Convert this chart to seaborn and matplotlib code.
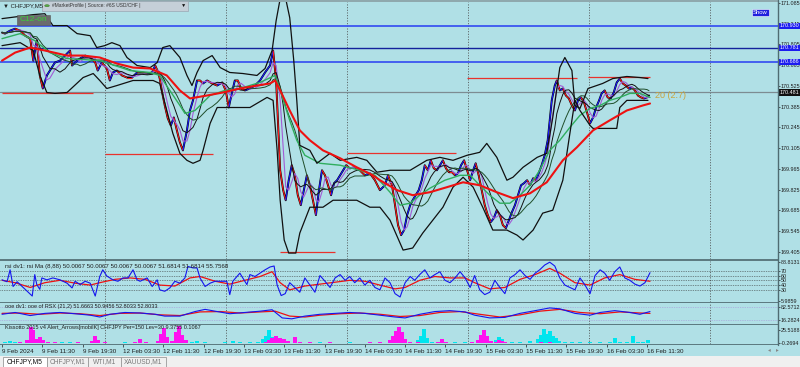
import numpy as np
import pandas as pd
import matplotlib
matplotlib.use("Agg")
import matplotlib.pyplot as plt
import seaborn as sns
from matplotlib.collections import LineCollection
from matplotlib.patches import Rectangle, Circle
from matplotlib.lines import Line2D

sns.set_theme(style="white")
plt.rcParams['font.family'] = ['Liberation Sans', 'DejaVu Sans']

# ---------------- data ----------------
close_hours = [0.0,0.6,1.6,2.6,3.6,4.6,5.6,6.2,6.9,7.5,
               8.1,8.9,9.5,10.5,11.5,12.5,13.5,13.9,14.9,15.5,
               16.5,17.5,18.5,19.0,19.8,20.8,21.4,22.0,22.8,23.8,
               24.8,25.8,26.8,27.8,28.8,29.8,30.4,31.0,31.3,31.7,
               32.3,32.9,33.5,34.1,34.7,35.3,35.9,36.7,37.3,37.9,
               38.7,39.3,39.9,40.7,41.7,42.7,43.7,44.4,45.0,45.6,
               46.2,46.8,47.4,48.2,49.2,50.2,51.2,52.2,53.2,53.8,
               54.4,55.2,55.8,56.3,56.9,57.5,58.1,58.7,59.3,59.9,
               60.5,61.1,61.7,62.3,62.9,63.5,64.1,64.7,65.3,65.9,
               66.5,67.1,67.7,68.3,69.0,70.0,71.0,72.0,73.0,74.0,
               75.0,76.0,76.6,77.4,78.0,78.6,79.2,79.8,80.4,81.0,
               81.5,82.1,82.7,83.3,83.9,84.5,85.1,85.7,86.3,86.9,
               87.5,88.1,88.7,89.3,89.9,90.5,91.1,91.7,92.3,92.9,
               93.5,94.0,94.6,95.2,95.8,96.4,97.0,97.6,98.2,98.8,
               99.4,100.0,100.6,101.2,101.8,102.4,103.0,103.6,104.2,104.8,
               105.4,106.0,106.6,107.1,107.7,108.3,108.7,109.1,109.7,110.1,
               110.7,111.3,111.9,112.5,113.1,113.7,114.3,114.9,115.5,116.1,
               116.7,117.3,117.9,118.5,119.0,119.6,120.2,120.8,121.4,122.0,
               122.6,123.2,123.8,124.4,125.0,125.6,126.2,126.8,127.4,128.0,128.4]
close = [170.884,170.877,170.897,170.910,170.897,170.863,170.843,170.695,170.830,170.595,
         170.507,170.595,170.628,170.682,170.695,170.729,170.763,170.662,170.695,170.709,
         170.729,170.716,170.682,170.628,170.682,170.642,170.561,170.615,170.628,170.595,
         170.581,170.581,170.615,170.615,170.608,170.615,170.662,170.615,170.574,170.494,
         170.393,170.306,170.258,170.312,170.225,170.144,170.090,170.225,170.359,170.427,
         170.561,170.561,170.541,170.561,170.541,170.527,170.548,170.494,170.379,170.474,
         170.561,170.561,170.507,170.494,170.507,170.527,170.561,170.615,170.662,170.763,
         170.561,169.956,169.822,169.754,169.889,169.990,169.922,169.788,169.721,169.822,
         169.922,169.855,169.754,169.654,169.822,169.956,169.922,169.855,169.788,169.869,
         169.889,169.922,169.956,169.990,169.969,169.976,169.956,169.922,169.936,169.889,
         169.822,169.855,169.922,169.855,169.721,169.586,169.519,169.553,169.654,169.721,
         169.754,169.788,169.822,169.889,169.990,169.956,170.023,169.969,169.956,169.990,
         170.023,169.969,169.943,169.943,169.922,169.936,169.990,170.023,169.956,169.889,
         169.956,170.003,169.922,169.822,169.721,169.654,169.607,169.633,169.687,169.654,
         169.586,169.566,169.620,169.674,169.721,169.788,169.855,169.869,169.889,169.855,
         169.902,169.889,169.943,169.990,170.057,170.158,170.292,170.427,170.527,170.561,
         170.494,170.507,170.460,170.440,170.393,170.359,170.427,170.447,170.413,170.346,
         170.272,170.312,170.379,170.427,170.474,170.494,170.447,170.440,170.480,170.548,
         170.574,170.541,170.527,170.507,170.514,170.494,170.460,170.447,170.440,170.447,170.460]

red_ma_hours = [0.0,2.6,5.6,8.5,12.9,16.1,19.4,22.8,26.0,29.4,32.7,35.3,37.3,40.7,43.8,47.2,50.6,53.2,54.2,55.2,
                57.1,59.1,61.1,63.7,67.1,70.4,73.6,75.0,78.4,81.5,84.9,88.3,91.5,94.8,98.2,101.4,104.8,108.1,
                111.3,114.1,117.3,120.6,124.0,127.2,128.6]
red_ma = [170.695,170.749,170.783,170.763,170.729,170.729,170.716,170.675,170.648,170.642,170.595,170.494,170.440,
          170.460,170.480,170.507,170.527,170.541,170.561,170.494,170.359,170.225,170.158,170.090,170.037,169.976,
          169.922,169.889,169.822,169.788,169.808,169.842,169.875,169.855,169.808,169.768,169.801,169.875,
          170.023,170.111,170.225,170.292,170.359,170.393,170.406]

green_ma_hours = [0.0,3.6,6.5,9.5,12.9,19.4,25.4,29.4,31.3,33.3,35.3,36.3,38.3,41.3,44.2,47.2,51.2,54.2,55.2,57.1,
                  58.5,60.1,63.1,67.1,71.0,74.0,77.0,79.0,81.0,82.9,84.9,87.9,90.9,92.9,94.8,96.8,98.8,100.8,
                  102.8,104.8,106.7,108.7,110.7,112.7,114.7,116.7,118.7,120.6,122.6,124.6,126.6,128.6]
green_ma = [170.843,170.877,170.830,170.749,170.709,170.695,170.628,170.615,170.595,170.494,170.393,170.339,170.359,
            170.460,170.494,170.507,170.548,170.595,170.494,170.292,170.158,170.057,170.003,169.990,169.956,169.922,
            169.808,169.721,169.734,169.788,169.835,169.889,169.922,169.922,169.855,169.788,169.734,169.734,
            169.788,169.855,169.956,170.090,170.158,170.245,170.326,170.373,170.393,170.427,170.447,170.474,170.474,170.447]

upper_hours = [0.0,3.0,6.2,8.5,10.1,12.9,14.9,17.5,18.8,20.4,21.8,23.4,24.8,26.8,29.4,30.8,31.9,33.3,35.3,36.7,
               37.7,38.7,39.9,41.7,43.3,45.2,47.8,50.6,52.2,53.6,54.4,55.2,56.3,57.1,57.9,58.5,59.1,61.1,62.5,
               65.1,67.1,70.4,72.4,74.4,77.0,81.0,84.3,86.9,89.5,92.3,94.8,96.2,98.2,100.2,101.4,103.4,106.2,
               108.1,109.3,110.7,111.7,113.1,113.7,114.7,116.3,119.2,121.2,124.0,126.6,128.2]
upper_band = [170.978,170.991,171.005,171.011,170.931,170.931,170.877,170.863,170.783,170.796,170.816,170.796,
              170.716,170.662,170.648,170.682,170.783,170.796,170.716,170.595,170.527,170.615,170.695,170.729,
              170.648,170.615,170.608,170.595,170.642,170.763,170.964,171.112,171.112,170.984,170.695,170.427,
              170.124,170.090,170.003,170.070,170.023,170.043,170.023,169.943,169.956,169.956,170.023,170.043,
              170.023,170.057,170.077,170.137,170.043,169.889,169.909,169.976,170.043,170.070,170.312,170.648,
              170.716,170.628,170.393,170.373,170.507,170.541,170.574,170.588,170.581,170.574]

lower_hours = [0.0,3.6,6.2,7.5,8.9,10.5,12.9,16.1,18.1,19.4,20.8,22.8,26.0,30.0,31.3,32.7,33.9,35.3,36.7,37.9,
               39.3,39.9,41.3,42.7,45.2,49.2,52.6,53.8,54.6,55.2,56.0,56.9,58.3,59.1,61.1,63.7,65.7,70.4,73.0,
               75.0,77.0,79.6,81.5,83.5,85.5,87.5,89.5,91.5,93.5,95.4,97.4,100.2,102.2,103.4,105.4,107.3,109.3,
               111.3,112.7,113.7,114.7,116.7,117.3,122.0,122.6,124.0,126.6,128.2]
lower_band = [170.796,170.816,170.763,170.595,170.480,170.474,170.480,170.581,170.608,170.561,170.507,170.527,
              170.561,170.561,170.541,170.359,170.205,170.070,170.023,170.003,170.023,170.090,170.272,170.379,
              170.379,170.379,170.447,170.427,170.090,169.754,169.486,169.398,169.398,169.533,169.707,169.707,
              169.754,169.754,169.707,169.707,169.620,169.418,169.432,169.533,169.620,169.707,169.842,169.909,
              169.842,169.707,169.553,169.553,169.519,169.486,169.553,169.667,169.687,169.889,170.205,170.427,
              170.359,170.258,170.238,170.238,170.379,170.427,170.427,170.427]

level_prices = [170.930, 170.781, 170.686, 170.481]
level_labels = ["170.930", "170.781", "170.686", "170.481"]

profile_start = [0.0, 20.4, 55.2, 68.5, 92.3, 116.3]
profile_end = [18.1, 41.9, 66.1, 90.1, 114.1, 128.6]
profile_price = [170.474, 170.064, 169.405, 170.070, 170.581, 170.583]

price_ticks = [171.085, 170.945, 170.805, 170.665, 170.525, 170.385, 170.245,
               170.105, 169.965, 169.825, 169.685, 169.545, 169.405]

rsi_hours = [0.0,1.0,1.6,2.2,3.0,3.6,5.0,6.0,6.5,6.9,7.5,7.9,8.9,10.1,11.5,12.9,13.9,14.5,15.5,16.5,
             17.5,18.5,19.4,20.0,20.8,22.0,23.0,24.0,25.0,26.0,26.8,27.4,28.8,29.8,30.8,31.3,32.3,33.3,34.3,35.3,
             36.3,36.9,37.9,38.7,39.3,40.3,41.3,42.3,43.3,44.6,45.2,45.8,47.2,48.6,49.2,50.2,51.2,
             52.2,53.2,54.0,54.6,55.4,56.2,
             57.1,58.1,59.1,60.1,61.1,62.1,63.1,64.1,65.1,66.1,
             67.1,68.1,69.0,70.0,71.0,72.0,73.0,74.0,75.0,76.0,
             77.0,78.0,79.0,80.0,81.0,81.9,82.9,83.9,84.9,85.9,
             86.9,87.9,88.9,89.9,90.9,91.9,92.9,93.8,94.8,95.8,
             96.8,97.8,98.8,99.8,100.8,101.8,102.8,103.8,104.8,105.8,
             106.7,107.7,108.7,109.7,110.7,111.7,112.7,113.7,114.7,115.7,
             116.7,117.7,118.7,119.6,120.6,121.6,122.6,123.6,124.6,125.6,
             126.6,127.6,128.6]
rsi_fast = [51,47,72,37,47,41,27,17,62,41,31,55,51,55,51,44,34,48,41,48,
            44,17,58,72,59,51,48,55,55,72,51,48,55,37,51,30,27,34,48,44,
            55,79,76,76,55,37,44,48,48,48,20,48,65,41,62,58,65,
            72,78,80,40,18,22,
            45,35,25,55,40,25,60,48,35,55,
            62,50,58,45,55,40,50,35,30,55,
            45,22,15,45,58,50,62,72,55,62,
            68,50,45,55,68,55,35,60,30,20,
            25,50,35,22,55,62,72,60,52,65,
            72,82,88,80,55,40,35,30,55,40,
            22,60,72,65,50,68,78,55,50,42,
            38,45,66]
rsi_ma_hours = [0.0,2.6,5.6,8.5,11.5,14.5,17.5,19.4,22.4,25.4,28.4,31.3,34.3,37.3,39.3,42.3,45.2,48.2,51.2,53.6,
                55.2,57.1,60.1,63.1,66.1,69.0,72.0,75.0,78.0,80.0,82.9,85.9,88.9,91.9,93.8,96.8,99.8,102.8,
                105.8,108.7,110.7,113.7,116.7,119.6,122.6,125.6,128.6]
rsi_ma = [50,45,35,45,50,44,40,45,52,55,52,40,38,55,58,48,42,50,58,68,45,30,38,42,46,50,48,40,32,35,50,58,55,55,
          45,32,35,52,62,75,65,45,40,55,62,52,48]
rsi_levels = [70, 60, 50, 40, 30]

rsx_hours = [0.0,2.6,5.6,8.5,11.5,14.5,17.5,19.4,21.4,24.4,27.4,30.4,32.3,35.3,38.3,40.3,42.3,45.2,48.2,51.2,
             53.6,55.6,57.5,60.1,63.1,66.1,69.0,72.0,75.0,78.0,80.0,82.9,85.9,88.9,91.9,93.8,96.8,99.8,102.8,
             105.8,108.7,110.7,113.7,116.7,118.7,121.6,124.6,126.6,128.6]
rsx_fast = [45,55,38,50,55,48,40,30,45,55,52,45,35,35,60,72,62,48,55,62,70,25,20,35,45,50,55,50,40,30,25,45,60,
            65,58,40,25,28,50,65,80,75,50,40,55,65,55,45,60]
rsx_slow_hours = [0.0,3.6,7.5,11.5,15.5,19.4,23.4,27.4,31.3,35.3,39.3,43.3,47.2,51.2,54.2,57.1,60.1,63.1,67.1,
                  71.0,75.0,79.0,82.9,86.9,90.9,94.8,98.8,102.8,106.7,110.7,114.7,118.7,122.6,126.6,128.6]
rsx_slow = [50,52,45,52,48,38,50,52,42,38,58,60,52,58,62,35,30,40,48,52,45,33,38,55,60,45,30,42,62,72,55,48,58,52,50]
rsx_levels = [82.5712, 16.2824]

kis_hours = [0.6,1.6,2.6,3.6,5.0,5.8,6.2,6.7,7.5,8.1,
             9.1,10.5,11.9,13.5,15.1,16.5,17.9,18.5,19.0,20.4,
             22.4,24.4,26.4,27.4,28.6,29.8,31.0,31.5,32.1,32.7,
             33.7,34.5,35.1,35.7,36.5,37.7,38.7,40.3,42.3,44.2,
             45.8,47.2,49.2,50.8,51.8,52.4,53.0,53.6,54.4,55.2,
             56.0,56.7,58.1,59.1,61.1,63.1,65.1,67.1,69.0,71.0,
             73.0,75.0,77.0,77.6,78.2,78.8,79.4,80.0,81.0,82.5,
             83.1,83.7,84.3,85.3,86.5,87.3,88.1,89.9,91.9,93.3,
             94.4,95.0,95.6,96.2,97.0,98.0,98.6,99.2,99.8,101.2,
             102.8,104.8,106.3,106.9,107.5,108.1,108.7,109.3,109.9,110.5,
             111.7,113.1,114.7,116.7,118.7,120.6,121.6,122.6,124.0,125.2,
             126.2,127.2,128.2]
kis_cyan = [3,5,2,1,2,1,2,1,1,1,
            2,1,2,3,1,1,1,1,1,1,
            1,2,1,1,1,1,1,1,1,1,
            1,1,1,1,1,2,5,2,1,2,
            4,2,3,2,8,14,24,12,4,2,
            1,1,2,1,1,2,1,1,2,1,
            1,1,2,4,8,6,4,2,2,6,
            14,26,10,3,3,6,2,2,2,1,
            2,2,2,2,1,6,12,8,3,2,
            2,4,8,16,26,18,22,14,10,5,
            3,2,2,3,2,3,10,3,2,14,
            3,2,6]
kis_magenta = [1,1,1,2,6,30,24,8,12,6,
               3,2,1,1,2,1,4,14,6,2,
               1,1,3,8,2,1,5,18,28,12,
               4,20,32,16,6,1,1,1,1,1,
               1,1,1,1,1,3,6,10,14,10,
               8,4,12,3,2,1,2,1,1,1,
               2,3,6,14,22,30,20,8,3,2,
               1,1,1,1,2,8,2,1,1,2,
               6,16,24,14,5,3,6,4,2,1,
               1,1,1,2,1,1,2,1,1,1,
               1,1,1,1,1,1,1,1,1,1,
               1,1,1]

xtick_hours = [0, 8, 16, 24, 32, 40, 48, 56, 64, 72, 80, 88, 96, 104, 112, 120, 128]
xtick_labels = ["9 Feb 2024", "9 Feb 11:30", "9 Feb 19:30", "12 Feb 03:30", "12 Feb 11:30",
                "12 Feb 19:30", "13 Feb 03:30", "13 Feb 11:30", "13 Feb 19:30", "14 Feb 03:30",
                "14 Feb 11:30", "14 Feb 19:30", "15 Feb 03:30", "15 Feb 11:30", "15 Feb 19:30",
                "16 Feb 03:30", "16 Feb 11:30"]
day_separators = [20.5, 44.5, 68.5, 92.5, 116.5, 140.5]
tabs = ["CHFJPY,M5", "CHFJPY,M1", "WTI,M1", "XAUUSD,M1"]

for a, b in [(close_hours, close), (red_ma_hours, red_ma), (green_ma_hours, green_ma),
             (upper_hours, upper_band), (lower_hours, lower_band), (rsi_hours, rsi_fast),
             (rsi_ma_hours, rsi_ma), (rsx_hours, rsx_fast), (rsx_slow_hours, rsx_slow)]:
    assert len(a) == len(b), (len(a), len(b))
assert len(kis_hours) == len(kis_cyan) == len(kis_magenta)

# ---------------- figure ----------------
BG = "#b0e0e6"
W, H = 800, 367
AXIS_FS = 3.9
fig = plt.figure(figsize=(8, 3.67), dpi=100)
fig.patch.set_facecolor(BG)


def box(x0, y0, x1, y1):
    return [x0 / W, 1 - y1 / H, (x1 - x0) / W, (y1 - y0) / H]


ax = fig.add_axes(box(0, 2, 778, 259))
ax1 = fig.add_axes(box(0, 261, 778, 302), sharex=ax)
ax2 = fig.add_axes(box(0, 303, 778, 324), sharex=ax)
ax3 = fig.add_axes(box(0, 325, 778, 344), sharex=ax)

XMIN, XMAX = -0.4, 154.0
for a in (ax, ax1, ax2, ax3):
    a.set_facecolor(BG)
    for s in a.spines.values():
        s.set_visible(False)
    a.yaxis.tick_right()
    a.tick_params(axis='y', which='both', right=True, left=False, labelleft=False, labelright=True,
                  length=1.5, width=0.5, pad=0.5, labelsize=AXIS_FS, colors='#1e1e1e')
    a.tick_params(axis='x', bottom=False, labelbottom=False)
    a.set_xlim(XMIN, XMAX)
    for d in day_separators:
        a.axvline(d, color='#4a4a4a', lw=0.55, ls=(0, (1.5, 2)), zorder=1)

# ---- main price panel ----
ax.set_ylim(169.358, 171.09)
ax.set_yticks(price_ticks)
ax.set_yticklabels([f"{v:.3f}" for v in price_ticks])

level_colors = ['#3b56f0', '#14239c', '#3b56f0', '#7d8c92']
level_widths = [1.3, 1.0, 1.3, 0.9]
for p, c, w in zip(level_prices, level_colors, level_widths):
    ax.axhline(p, color=c, lw=w, zorder=2)

for s, e, p in zip(profile_start, profile_end, profile_price):
    ax.hlines(p, s, e, color='#e8322d', lw=0.9, zorder=2)

price_df = pd.DataFrame({"hours": close_hours, "close": close})
price_df["ma_fast"] = price_df["close"].rolling(3, min_periods=1).mean()
price_df["ma_mid"] = price_df["close"].rolling(6, min_periods=1).mean()
price_df["ma_slow"] = price_df["close"].rolling(11, min_periods=1).mean()

sns.lineplot(data=price_df, x="hours", y="close", ax=ax, color='black', lw=1.4,
             estimator=None, sort=False, zorder=3)
pts = np.column_stack([price_df["hours"], price_df["close"]])
segs = np.stack([pts[:-1], pts[1:]], axis=1)
seg_cols = ['#1a1aff' if b > a else '#ff1a1a' for a, b in zip(close[:-1], close[1:])]
ax.add_collection(LineCollection(segs, colors=seg_cols, linewidths=0.8, zorder=4))

sns.lineplot(data=price_df, x="hours", y="ma_fast", ax=ax, color='#a25bd6', lw=0.8,
             estimator=None, sort=False, zorder=4)
sns.lineplot(data=price_df, x="hours", y="ma_mid", ax=ax, color='#111111', lw=0.7,
             estimator=None, sort=False, zorder=4)
sns.lineplot(data=price_df, x="hours", y="ma_slow", ax=ax, color='#1f4d2a', lw=0.7,
             estimator=None, sort=False, zorder=4)
sns.lineplot(x=green_ma_hours, y=green_ma, ax=ax, color='#2fae5e', lw=1.0,
             estimator=None, sort=False, zorder=5)
sns.lineplot(x=upper_hours, y=upper_band, ax=ax, color='#101010', lw=0.9,
             estimator=None, sort=False, zorder=5)
sns.lineplot(x=lower_hours, y=lower_band, ax=ax, color='#101010', lw=0.9,
             estimator=None, sort=False, zorder=5)
sns.lineplot(x=red_ma_hours, y=red_ma, ax=ax, color='#ee1111', lw=1.5,
             estimator=None, sort=False, zorder=6)

ax.set_xlabel("")
ax.set_ylabel("")

# price level labels on the right scale
label_fc = ['#1c1cf0', '#1c1cf0', '#1c1cf0', '#111111']
for p, t, c in zip(level_prices, level_labels, label_fc):
    ax.text(1.0025, p, t, transform=ax.get_yaxis_transform(), ha='left', va='center',
            fontsize=AXIS_FS, color='white', clip_on=False, zorder=10,
            bbox=dict(boxstyle='square,pad=0.12', fc=c, ec='none'))

ax.text(close_hours[-1] + 1.2, close[-1], "20 (2.7)", fontsize=6.5, color='#c9a33c',
        ha='left', va='center', zorder=8)

# ---- rsi panel ----
ax1.set_ylim(4.5, 90.5)
for lv in rsi_levels:
    ax1.axhline(lv, color='#333333', lw=0.5, ls=(0, (1, 1.5)), zorder=1)
sns.lineplot(x=rsi_ma_hours, y=rsi_ma, ax=ax1, color='#ee1111', lw=0.9, estimator=None, sort=False)
sns.lineplot(x=rsi_hours, y=rsi_fast, ax=ax1, color='#1515ee', lw=0.8, estimator=None, sort=False)
ax1.set_yticks([88.8131] + rsi_levels + [5.9859])
ax1.set_yticklabels(["88.8131"] + [str(v) for v in rsi_levels] + ["5.9859"])
ax1.text(0.006, 0.92, "rsi dv1: rsi Ma (8,88) 50.0067 50.0067 50.0067 50.0067 51.6814 51.6814 55.7568",
         transform=ax1.transAxes, fontsize=4.4, color='#1e1e1e', va='top', ha='left')

# ---- rsx panel ----
ax2.set_ylim(-8.4, 107)
for lv in rsx_levels:
    ax2.axhline(lv, color='#a98fd8', lw=0.5, ls=(0, (1, 1.5)), zorder=1)
sns.lineplot(x=rsx_slow_hours, y=rsx_slow, ax=ax2, color='#ee1111', lw=0.9, estimator=None, sort=False)
sns.lineplot(x=rsx_hours, y=rsx_fast, ax=ax2, color='#1515ee', lw=0.8, estimator=None, sort=False)
ax2.set_yticks(rsx_levels)
ax2.set_yticklabels([f"{v:.4f}" for v in rsx_levels])
ax2.text(0.006, 0.94, "ooe dv1: ooe of RSX (21,2) 51.6663 50.9456 52.8033 52.8033",
         transform=ax2.transAxes, fontsize=4.0, color='#1e1e1e', va='top', ha='left')

# ---- kissotto panel ----
ax3.set_ylim(-1.5, 34)
ax3.bar(kis_hours, kis_cyan, width=0.8, color='#00e5ee', linewidth=0, zorder=2)
ax3.bar(kis_hours, kis_magenta, width=0.8, color='#ff10f0', linewidth=0, zorder=3)
ax3.set_yticks([25.5188, -0.2694])
ax3.set_yticklabels(["25.5188", "-0.2694"])
ax3.text(0.006, 0.98, "Kissotto 2015 v4 Alert_Arrows[mobilK] CHFJPY Per=150 Lev=30 9.3755 0.1067",
         transform=ax3.transAxes, fontsize=4.0, color='#1e1e1e', va='top', ha='left', zorder=5)
ax3.set_xticks(xtick_hours)
ax3.set_xticklabels(xtick_labels)
ax3.tick_params(axis='x', bottom=True, labelbottom=True, length=2, width=0.5, pad=1.5,
                labelsize=4.5, colors='#1e1e1e')
for lab in ax3.get_xticklabels():
    lab.set_ha('left')

# ---------------- frame decorations (pixel layout) ----------------
def frect(x0, y0, x1, y1, **kw):
    fig.add_artist(Rectangle((x0 / W, 1 - y1 / H), (x1 - x0) / W, (y1 - y0) / H,
                             transform=fig.transFigure, **kw))


def ftext(x, y, s, **kw):
    fig.text(x / W, 1 - y / H, s, **kw)


sep = '#5d7b81'
frect(0, 0, 778, 1.6, fc='#8fa9ae', ec='none')
for y0, y1 in [(259, 261), (302, 303.4), (324, 325.4), (343.6, 345)]:
    frect(0, y0, 778, y1, fc=sep, ec='none')
fig.add_artist(Line2D([778 / W, 778 / W], [1 - 345 / H, 1], transform=fig.transFigure,
                      color='#4f6c72', lw=1.0))

# tab bar
frect(0, 356, 800, 367, fc='#f0f0f0', ec='none')
tab_x = [(3, 47), (47, 88), (88, 121), (121, 166)]
for (x0, x1), name in zip(tab_x, tabs):
    active = name == "CHFJPY,M5"
    frect(x0, 357, x1, 367, fc='white' if active else '#f0f0f0', ec='#9a9a9a', lw=0.6)
    ftext((x0 + x1) / 2, 362, name, fontsize=4.8, ha='center', va='center',
          color='#111111' if active else '#7a7a7a')
ftext(768, 350, "\u25c2   \u25b8", fontsize=4, color='#888888', ha='left', va='center',
      family=['DejaVu Sans'])

# top-left header
ftext(3, 5.5, "\u25bc CHFJPY,M5", fontsize=4.3, color='#1e1e1e', ha='left', va='center')
frect(42, 1, 188, 10.5, fc='#c5cfd8', ec='#9aa7b3', lw=0.5)
fig.add_artist(Circle((47 / W, 1 - 5.7 / H), 2.3 / W, transform=fig.transFigure,
                      fc='#55aa44', ec='#336622', lw=0.3))
ftext(52, 5.8, "#MarketProfile | Source: #6S USD/CHF |", fontsize=3.5, color='#333333',
      ha='left', va='center')
ftext(186, 5.8, "\u25bc", fontsize=3.8, color='#111111', ha='right', va='center')
frect(17, 14.5, 50, 24.5, fc='#6b6b6b', ec='#555555', lw=0.4)
ftext(33.5, 19.5, "C12-on", fontsize=6, color='#38d23a', ha='center', va='center')
frect(752, 8.5, 769, 15.5, fc='#2020dd', ec='white', lw=0.4)
ftext(760.5, 12, "Show", fontsize=4.2, color='white', ha='center', va='center')

fig.savefig("out.png", dpi=100, facecolor=BG)
